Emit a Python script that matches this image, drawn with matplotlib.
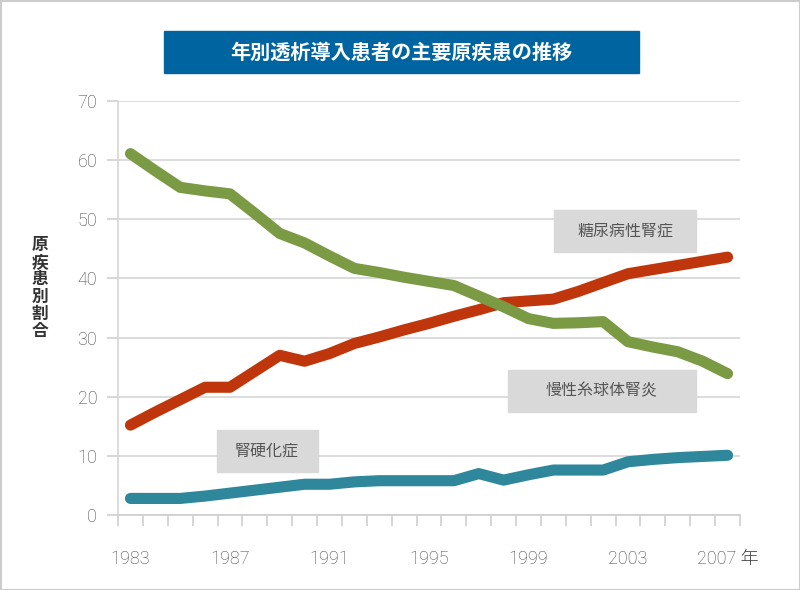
import matplotlib
matplotlib.use("Agg")
import matplotlib.pyplot as plt
from matplotlib.patches import Rectangle

plt.rcParams['font.family'] = ['Noto Sans CJK JP', 'DejaVu Sans']

# データ (年別透析導入患者の主要原疾患, %)
years = list(range(1983, 2008))
diabetes = [15.2, 17.4, 19.5, 21.6, 21.6, 24.3, 27.0, 26.0, 27.3, 29.0,
            30.1, 31.3, 32.4, 33.6, 34.7, 35.9, 36.2, 36.5, 37.8, 39.3,
            40.8, 41.5, 42.2, 42.9, 43.6]
glomerulo = [61.1, 58.2, 55.4, 54.8, 54.3, 51.0, 47.6, 46.0, 43.8, 41.7,
             41.0, 40.2, 39.5, 38.8, 37.0, 35.2, 33.2, 32.4, 32.5, 32.7,
             29.3, 28.4, 27.6, 26.0, 23.9]
sclerosis = [2.8, 2.8, 2.8, 3.2, 3.7, 4.2, 4.7, 5.2, 5.2, 5.6,
             5.8, 5.8, 5.8, 5.8, 7.0, 5.9, 6.8, 7.6, 7.6, 7.6,
             9.0, 9.4, 9.7, 9.9, 10.1]
xlabels = ['1983', '1987', '1991', '1995', '1999', '2003', '2007 年']
yticks = [0, 10, 20, 30, 40, 50, 60, 70]

title = '年別透析導入患者の主要原疾患の推移'
ylabel = '原疾患別割合'
names = ['糖尿病性腎症', '慢性糸球体腎炎', '腎硬化症']
colors = ['#c0360c', '#7a9a44', '#2f879b']
tickfont = ['Roboto', 'Noto Sans CJK JP']

fig = plt.figure(figsize=(8, 5.9), dpi=100)
ax = fig.add_axes([118/800, 1-515/590, 622/800, 414/590])

x = list(range(len(years)))
for vals, c in zip([sclerosis, diabetes, glomerulo], [colors[2], colors[0], colors[1]]):
    ax.plot(x, vals, color=c, lw=8, solid_capstyle='round', solid_joinstyle='round', zorder=3)

ax.set_xlim(-0.5, len(years) - 0.5)
ax.set_ylim(0, 70)
ax.set_yticks(yticks)
ax.set_yticklabels([str(v) for v in yticks], family=tickfont, fontweight='light')
ax.yaxis.grid(True, color='#d9d9d9', lw=1.3)
ax.set_axisbelow(True)

# 目盛り: 区切り位置に小目盛り、4年ごとにラベル
ax.set_xticks([i - 0.5 for i in range(len(years) + 1)], minor=True)
ax.set_xticks(x[::4])
ax.set_xticklabels(xlabels, family=tickfont, fontweight='light')
ax.tick_params(axis='x', which='major', length=0, pad=25, labelsize=13, labelcolor='#444444')
ax.tick_params(axis='x', which='minor', length=8, width=1.2, color='#d0d0d0')
ax.tick_params(axis='y', length=8, width=1.2, color='#d0d0d0', pad=7, labelsize=13, labelcolor='#444444')

for s in ['top', 'right']:
    ax.spines[s].set_visible(False)
ax.spines['left'].set_color('#d9d9d9')
ax.spines['left'].set_linewidth(1.3)
ax.spines['bottom'].set_color('#d0d0d0')
ax.spines['bottom'].set_linewidth(1.3)

# 系列ラベル
label_pos = [(625, 231, 554, 210, 142, 42), (602, 391, 508, 370, 188, 42), (267, 451, 217, 430, 101, 42)]
for name, (tx, ty, bx, by, bw, bh) in zip(names, label_pos):
    fig.patches.append(Rectangle((bx/800, 1-(by+bh)/590), bw/800, bh/590,
                                 transform=fig.transFigure, color='#d9d9d9', zorder=4))
    fig.text(tx/800, 1-ty/590, name, ha='center', va='center', fontsize=11.5,
             color='#555555', zorder=5)

# タイトル
fig.patches.append(Rectangle((164/800, 1-73/590), 475/800, 42/590,
                             transform=fig.transFigure, color='#0064a0'))
fig.text(401/800, 1-52/590, title, ha='center', va='center', fontsize=14.5,
         color='white', fontweight='bold')

# 縦書きの軸ラベル
fig.text(40/800, 1-288/590, '\n'.join(ylabel), ha='center', va='center',
         fontsize=12, fontweight='bold', color='#333333', linespacing=0.95)

# 外枠
fig.patches.append(Rectangle((0.5/800, 0.5/590), 799/800, 589/590, transform=fig.transFigure,
                             fill=False, edgecolor='#cccccc', lw=1.5))

fig.savefig('out.png', dpi=100)
